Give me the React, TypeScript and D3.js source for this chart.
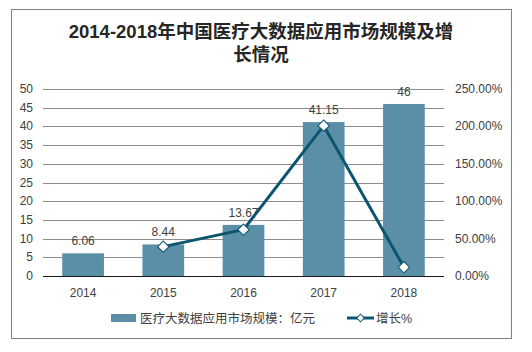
import { useEffect, useRef } from 'react';
import * as d3 from 'd3';

const years = ['2014', '2015', '2016', '2017', '2018'];
const marketSize = [6.06, 8.44, 13.67, 41.15, 46];
const growth = [null, 39.27, 61.97, 201.02, 11.79];
const leftTicks = [0, 5, 10, 15, 20, 25, 30, 35, 40, 45, 50];
const rightTicks = [0, 50, 100, 150, 200, 250];

const W = 532;
const H = 352;
const plot = { left: 43, right: 444, top: 89, bottom: 276 };
const barColor = '#5b8fa8';
const lineColor = '#0c5570';
const font = '"Liberation Sans", Arial, "Noto Sans CJK SC", sans-serif';

const App = () => {
    const svgRef = useRef<SVGSVGElement>(null);

    useEffect(() => {
        const svg = d3.select(svgRef.current);
        svg.selectAll('*').remove();

        const xc = d3.scaleBand().domain(years).range([plot.left, plot.right]);
        const barW = xc.bandwidth() * 0.52;
        const cx = (yr: string) => (xc(yr) ?? 0) + xc.bandwidth() / 2;
        const y = d3.scaleLinear().domain([0, 50]).range([plot.bottom, plot.top]);
        const y2 = d3.scaleLinear().domain([0, 250]).range([plot.bottom, plot.top]);

        // outer frame
        svg.append('rect')
            .attr('x', 11.5).attr('y', 9.5).attr('width', 500).attr('height', 329)
            .attr('fill', 'white').attr('stroke', '#7f7f7f').attr('stroke-width', 1);

        // title
        const title = svg.append('text')
            .attr('text-anchor', 'middle')
            .attr('font-family', font)
            .attr('font-weight', 'bold')
            .attr('font-size', 18.5)
            .attr('fill', '#262626');
        title.append('tspan').attr('x', 261).attr('y', 38).text('2014-2018年中国医疗大数据应用市场规模及增');
        title.append('tspan').attr('x', 261).attr('y', 61).text('长情况');

        // gridlines
        svg.append('g')
            .selectAll('line')
            .data(leftTicks.filter(d => d > 0))
            .join('line')
            .attr('x1', plot.left).attr('x2', plot.right)
            .attr('y1', d => Math.round(y(d)) + 0.5).attr('y2', d => Math.round(y(d)) + 0.5)
            .attr('stroke', '#8c8c8c').attr('stroke-width', 1);

        // left axis labels
        svg.append('g')
            .selectAll('text')
            .data(leftTicks)
            .join('text')
            .attr('x', 33).attr('y', d => y(d) + 4)
            .attr('text-anchor', 'end')
            .attr('font-family', font).attr('font-size', 12).attr('fill', '#404040')
            .text(d => d);

        // right axis labels
        svg.append('g')
            .selectAll('text')
            .data(rightTicks)
            .join('text')
            .attr('x', 455).attr('y', d => y2(d) + 4)
            .attr('font-family', font).attr('font-size', 12).attr('fill', '#404040')
            .text(d => `${d.toFixed(2)}%`);

        // bars
        svg.append('g')
            .selectAll('rect')
            .data(marketSize)
            .join('rect')
            .attr('x', (_, i) => cx(years[i]) - barW / 2)
            .attr('y', d => y(d))
            .attr('width', barW)
            .attr('height', d => plot.bottom - y(d))
            .attr('fill', barColor);

        // bar value labels
        svg.append('g')
            .selectAll('text')
            .data(marketSize)
            .join('text')
            .attr('x', (_, i) => cx(years[i]))
            .attr('y', d => y(d) - 8)
            .attr('text-anchor', 'middle')
            .attr('font-family', font).attr('font-size', 12).attr('fill', '#404040')
            .text(d => d);

        // baseline
        svg.append('line')
            .attr('x1', plot.left).attr('x2', plot.right)
            .attr('y1', plot.bottom + 0.5).attr('y2', plot.bottom + 0.5)
            .attr('stroke', '#1a1a1a').attr('stroke-width', 1);

        // x labels
        svg.append('g')
            .selectAll('text')
            .data(years)
            .join('text')
            .attr('x', d => cx(d))
            .attr('y', 297)
            .attr('text-anchor', 'middle')
            .attr('font-family', font).attr('font-size', 12).attr('fill', '#404040')
            .text(d => d);

        // growth line
        const pts = growth
            .map((g, i) => ({ g, yr: years[i] }))
            .filter(d => d.g !== null) as { g: number; yr: string }[];
        const line = d3.line<{ g: number; yr: string }>()
            .x(d => cx(d.yr))
            .y(d => y2(d.g));
        svg.append('path')
            .attr('d', line(pts))
            .attr('fill', 'none')
            .attr('stroke', lineColor)
            .attr('stroke-width', 3)
            .attr('stroke-linejoin', 'round');

        svg.append('g')
            .selectAll('path')
            .data(pts)
            .join('path')
            .attr('transform', d => `translate(${cx(d.yr)},${y2(d.g)}) rotate(45)`)
            .attr('d', d3.symbol().type(d3.symbolSquare).size(64)())
            .attr('fill', 'white')
            .attr('stroke', lineColor)
            .attr('stroke-width', 1);

        // legend
        const lg = svg.append('g');
        lg.append('rect')
            .attr('x', 111).attr('y', 314).attr('width', 25).attr('height', 8)
            .attr('fill', barColor);
        lg.append('text')
            .attr('x', 140).attr('y', 323)
            .attr('font-family', font).attr('font-size', 12.5).attr('fill', '#404040')
            .text('医疗大数据应用市场规模：亿元');
        lg.append('line')
            .attr('x1', 347).attr('x2', 374).attr('y1', 318).attr('y2', 318)
            .attr('stroke', lineColor).attr('stroke-width', 3);
        lg.append('path')
            .attr('transform', 'translate(360.5,318) rotate(45)')
            .attr('d', d3.symbol().type(d3.symbolSquare).size(30)())
            .attr('fill', 'white').attr('stroke', lineColor).attr('stroke-width', 1);
        lg.append('text')
            .attr('x', 376).attr('y', 323)
            .attr('font-family', font).attr('font-size', 12.5).attr('fill', '#404040')
            .text('增长%');
    }, []);

    return (
        <svg
            ref={svgRef}
            width={W}
            height={H}
            style={{ position: 'absolute', left: 0, top: 0, background: 'white' }}
        ></svg>
    );
};

export default App;
